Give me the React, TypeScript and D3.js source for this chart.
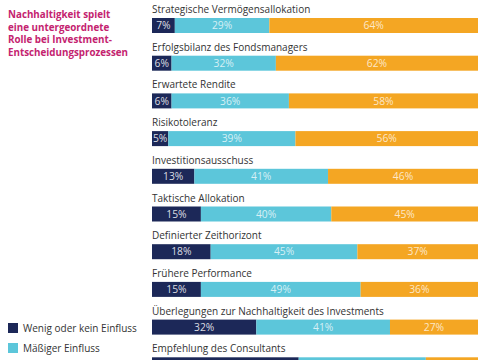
import React from "react";
import * as d3 from "d3";

const categories = [
  "Strategische Vermögensallokation",
  "Erfolgsbilanz des Fondsmanagers",
  "Erwartete Rendite",
  "Risikotoleranz",
  "Investitionsausschuss",
  "Taktische Allokation",
  "Definierter Zeithorizont",
  "Frühere Performance",
  "Überlegungen zur Nachhaltigkeit des Investments",
  "Empfehlung des Consultants",
];
const wenig = [7, 6, 6, 5, 13, 15, 18, 15, 32, 45];
const maessig = [29, 32, 36, 39, 41, 40, 45, 49, 41, 39];
const gross = [64, 62, 58, 56, 46, 45, 37, 36, 27, 16];
const seriesNames = ["Wenig oder kein Einfluss", "Mäßiger Einfluss", "Großer Einfluss"];
const colors = ["#1c2858", "#5cc6da", "#f4a623"];
const titleLines = [
  "Nachhaltigkeit spielt",
  "eine untergeordnete",
  "Rolle bei Investment-",
  "Entscheidungsprozessen",
];

const W = 485;
const H = 360;
const FONT = "'Open Sans', 'Noto Sans', sans-serif";

export default function App() {
  const x = d3.scaleLinear().domain([0, 100]).range([152, 478]);
  const y = d3
    .scaleBand<string>()
    .domain(categories)
    .range([-4, -4 + categories.length * 37.7])
    .paddingInner(0);

  const rows = categories.map((c, i) => ({ c, vals: [wenig[i], maessig[i], gross[i]] }));
  const stack = rows.map((r) => {
    let acc = 0;
    return r.vals.map((v, k) => {
      const s = { x0: acc, x1: acc + v, v, k };
      acc += v;
      return s;
    });
  });

  return (
    <svg
      width={W}
      height={H}
      style={{ position: "absolute", left: 0, top: 0, background: "#fff" }}
      fontFamily={FONT}
    >
      {titleLines.map((t, i) => (
        <text
          key={i}
          x={8}
          y={18 + i * 12.5}
          fontSize={9.8}
          fontWeight={700}
          fill="#c4236f"
        >
          {t}
        </text>
      ))}
      {rows.map((r, i) => {
        const y0 = y(r.c)!;
        return (
          <g key={r.c}>
            <text x={152} y={y0 + 17} fontSize={10} fill="#333">
              {r.c}
            </text>
            {stack[i].map((s) => (
              <g key={s.k}>
                <rect
                  x={x(s.x0)}
                  y={y0 + 22}
                  width={x(s.x1) - x(s.x0)}
                  height={15}
                  fill={colors[s.k]}
                />
                <text
                  x={(x(s.x0) + x(s.x1)) / 2}
                  y={y0 + 29.5}
                  dy="0.35em"
                  fontSize={10.3}
                  textAnchor="middle"
                  fill="#fff"
                  fillOpacity={s.k === 0 ? 0.85 : 0.75}
                >
                  {s.v}%
                </text>
              </g>
            ))}
          </g>
        );
      })}
      {seriesNames.map((n, i) => (
        <g key={n}>
          <rect x={8} y={323 + i * 20} width={10} height={10} fill={colors[i]} />
          <text x={23} y={332 + i * 20} fontSize={10} fill="#333">
            {n}
          </text>
        </g>
      ))}
    </svg>
  );
}
